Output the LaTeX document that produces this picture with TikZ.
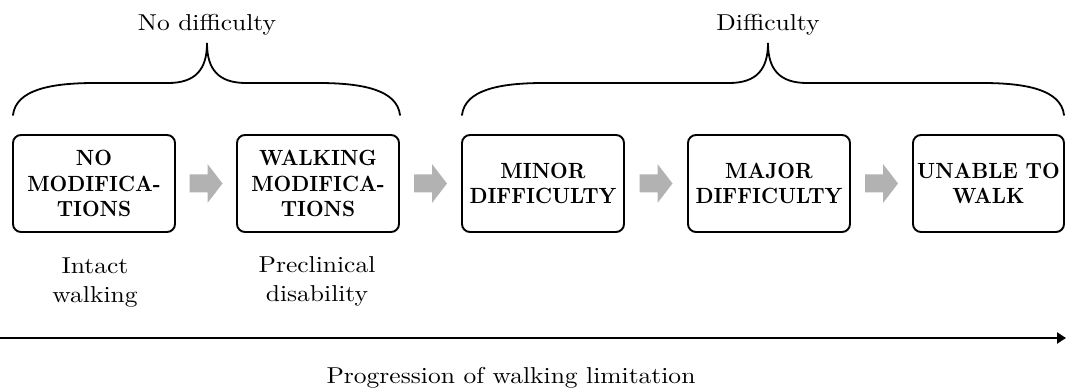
\documentclass[tikz,border=0pt]{standalone}
\usepackage{fontspec}
\newfontfamily\lblfont{lmroman10-regular.otf}[FakeStretch=1.11]
\newfontfamily\boxfont{lmroman10-bold.otf}[FakeStretch=0.93]
\usetikzlibrary{calc,arrows.meta}
\begin{document}
\begin{tikzpicture}[x=1pt,y=-1pt,
  stage/.style={draw, line width=1.9pt, rounded corners=8pt, minimum width=162pt, minimum height=97pt, align=center, inner sep=0pt, font=\boxfont\fontsize{22}{25.5}\selectfont},
  garrow/.pic={\fill[black!30] (-16.5,-9) -- (1.5,-9) -- (1.5,-19.5) -- (16.5,0) -- (1.5,19.5) -- (1.5,9) -- (-16.5,9) -- cycle;},
  lbl/.style={align=center, font=\lblfont\fontsize{23}{29}\selectfont},
  brace/.style={line width=1.8pt, line cap=round}]
\useasboundingbox (0,0) rectangle (1066,390);
% boxes
\node[stage] (b1) at (94,183.5) {NO\\MODIFICA-\\TIONS};
\node[stage] (b2) at (318,183.5) {WALKING\\MODIFICA-\\TIONS};
\node[stage] (b3) at (543,183.5) {MINOR\\DIFFICULTY};
\node[stage] (b4) at (769,183.5) {MAJOR\\DIFFICULTY};
\node[stage, minimum width=151pt] (b5) at (988.5,183.5) {UNABLE TO\\WALK};
% grey arrows
\pic (a1) at ($(b1.east)!0.5!(b2.west)$) {garrow};
\pic (a2) at ($(b2.east)!0.5!(b3.west)$) {garrow};
\pic (a3) at ($(b3.east)!0.5!(b4.west)$) {garrow};
\pic (a4) at ($(b4.east)!0.5!(b5.west)$) {garrow};
% labels under boxes
\node[lbl] (l1) at (95,283) {Intact\\walking};
\node[lbl] (l2) at (317,281.5) {Preclinical\\disability};
% braces
\draw[brace] (13,115) .. controls (16,90) and (50,83) .. (95,83) -- (168,83)
  .. controls (195,83) and (207,70) .. (207,43)
  .. controls (207,70) and (219,83) .. (246,83) -- (318,83)
  .. controls (363,83) and (397,90) .. (400,115);
\draw[brace] (462,115) .. controls (465,90) and (499,83) .. (544,83) -- (729,83)
  .. controls (756,83) and (768,70) .. (768,43)
  .. controls (768,70) and (780,83) .. (807,83) -- (982,83)
  .. controls (1027,83) and (1061,90) .. (1064,115);
\node[lbl, anchor=base] (t1) at (207,31) {No difficulty};
\node[lbl, anchor=base] (t2) at (768,31) {Difficulty};
% progression arrow
\coordinate (ps) at (0,338);
\coordinate (pe) at (1066,338);
\draw[line width=2.5pt, -{Triangle[length=9pt,width=11pt]}] (ps) -- (pe);
\node[lbl, anchor=base] (pl) at (511,383) {Progression of walking limitation};
\end{tikzpicture}
\end{document}
